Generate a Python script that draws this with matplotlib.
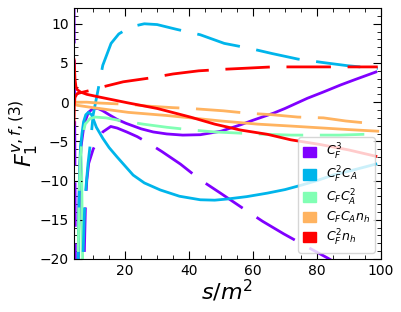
import numpy as np
import matplotlib
matplotlib.use("Agg")
import matplotlib.pyplot as plt
from matplotlib.patches import Patch
from matplotlib.ticker import MultipleLocator

# colour factors, one colour each (rainbow map)
labels = [r'$C_F^3$', r'$C_F^2C_A$', r'$C_FC_A^2$', r'$C_FC_An_h$', r'$C_F^2n_h$']
colors = plt.cm.rainbow(np.linspace(0, 1, 5))

# C_F^3
cf3_x = [5.2, 5.4, 5.6, 5.9, 6.2, 7.0, 7.7, 8.5, 10, 11.5, 13, 15, 17.5, 20.3, 25, 28.8, 33, 38,
         43.5, 50, 56, 60, 66.4, 70, 77, 82, 87.4, 92, 98.4]
cf3_y = [-22, -18, -12, -8, -5.7, -3.3, -2.2, -1.3, -0.8, -0.8, -1.1, -1.6, -2.2, -2.7, -3.4, -3.8,
         -4.05, -4.2, -4.15, -3.7, -2.9, -2.3, -1.4, -0.8, 0.5, 1.3, 2.2, 2.9, 3.85]
cf3d_x = [4.0, 4.1, 4.2, 4.3, 4.4, 4.5, 6.8, 7.3, 7.6, 8.0, 8.6, 10, 11.2, 13, 15.5, 17.5, 20.5,
          23.8, 28, 31.5, 37.3, 43.5, 49.8, 56.7, 63, 69.6, 75.8, 83.4, 90, 99]
cf3d_y = [14, 6, 0, -8, -16, -30, -30, -18, -13, -10, -7.8, -6, -5.05, -3.8, -3.1, -3.3, -3.8,
          -4.4, -5.4, -6.3, -7.9, -9.9, -11.6, -13.5, -15.2, -16.8, -18.2, -19.9, -21.5, -23.7]

# C_F^2 C_A
cfca_x = [5.3, 5.5, 5.7, 6.0, 6.5, 7.0, 7.7, 8.5, 9.5, 11, 13, 15, 17.5, 22.5, 26, 31, 37, 43.5,
          48, 52, 58, 64.5, 70, 75, 80, 85, 90, 98.4]
cfca_y = [-20, -14, -10, -6, -4, -2.5, -1.6, -1.3, -1.6, -3.2, -4.6, -5.8, -7.0, -9.3, -10.3,
          -11.2, -12, -12.45, -12.5, -12.35, -12.05, -11.6, -11.15, -10.6, -10.0, -9.3, -8.8, -7.9]
cfcad_x = [6.6, 6.8, 7.4, 8.4, 9.3, 10, 11.5, 13, 15.6, 18, 21.6, 26, 30, 36, 43.5, 51, 58.6, 66,
           74, 82, 89.6, 97.5, 99]
cfcad_y = [-30, -20, -12.5, -7.8, -4.6, -1.6, 1.5, 4.7, 7.5, 8.7, 9.6, 10.0, 9.9, 9.3, 8.6, 7.5,
           6.9, 6.2, 5.5, 5.05, 4.65, 4.35, 4.3]

# C_F C_A^2
ca2_x = [4.6, 5.5, 5.8, 6.1, 6.4, 6.7, 7.0]
ca2_y = [-60, -20, -9, -5.2, -9, -20, -60]
ca2d_x = [5.0, 5.3, 5.6, 6.0, 6.6, 7.5, 9, 10.6, 14, 17.8, 25.6, 33, 41, 48, 56, 64, 72, 80, 87,
          94.7, 99]
ca2d_y = [-30, -20, -12, -7, -4.5, -2.8, -2.1, -1.9, -2.0, -2.3, -2.8, -3.2, -3.55, -3.8, -3.95,
          -4.1, -4.2, -4.2, -4.2, -4.1, -4.1]

# C_F C_A n_h
nh_x = [4.0, 5, 10, 21, 33, 40.4, 50, 61.4, 72, 82, 90, 99]
nh_y = [-0.2, -0.4, -0.7, -1.3, -1.7, -2.0, -2.4, -2.8, -3.05, -3.3, -3.5, -3.7]
nhd_x = [4.0, 8, 11.5, 22, 27, 35, 40.4, 50.7, 58, 66, 74, 82, 89, 99]
nhd_y = [0.0, 0.0, -0.1, -0.3, -0.5, -0.7, -0.8, -1.1, -1.4, -1.6, -1.9, -2.0, -2.4, -2.8]

# C_F^2 n_h
fnh_x = [4.05, 4.3, 4.6, 5, 6, 8, 12, 21, 30, 40.4, 48, 56, 64.5, 71.8, 81, 90, 98.4]
fnh_y = [5.4, 3.0, 2.0, 1.6, 1.3, 1.0, 0.65, -0.1, -0.8, -1.9, -2.8, -3.55, -4.1, -4.8, -5.4,
         -6.1, -6.9]
fnhd_x = [4.0, 4.1, 4.3, 5, 7, 10, 12.5, 19.4, 28, 35, 43, 51, 58.6, 66, 75, 85, 99]
fnhd_y = [-3, -0.5, 0.6, 1.1, 1.3, 1.6, 1.9, 2.6, 3.1, 3.6, 4.0, 4.2, 4.35, 4.5, 4.5, 4.5, 4.5]

solid = [(cf3_x, cf3_y), (cfca_x, cfca_y), (ca2_x, ca2_y), (nh_x, nh_y), (fnh_x, fnh_y)]
dashed = [(cf3d_x, cf3d_y), (cfcad_x, cfcad_y), (ca2d_x, ca2d_y), (nhd_x, nhd_y), (fnhd_x, fnhd_y)]

fig = plt.figure(figsize=(4.01, 3.12), dpi=100)
ax = fig.add_axes([0.1845, 0.170, 0.7655, 0.804])

for i, ((xs, ys), (xd, yd)) in enumerate(zip(solid, dashed)):
    z = 1 if i == 2 else 2
    ax.plot(xs, ys, color=colors[i], lw=2, zorder=z)
    line, = ax.plot(xd, yd, color=colors[i], lw=2, zorder=2)
    line.set_dashes([16, 6])  # long dashes

ax.set_xlim(4, 100)
ax.set_ylim(-20, 12)
ax.xaxis.set_major_locator(MultipleLocator(20))
ax.xaxis.set_minor_locator(MultipleLocator(5))
ax.yaxis.set_major_locator(MultipleLocator(5))
ax.yaxis.set_minor_locator(MultipleLocator(1))
ax.tick_params(which='both', direction='in', top=True, right=True, labelsize=10)
ax.tick_params(which='major', length=6)
ax.tick_params(which='minor', length=3)

ax.set_xlabel(r'$s/m^2$', fontsize=16, labelpad=0)
ax.set_ylabel(r'$F_1^{v,f,(3)}$', fontsize=16, labelpad=0)

handles = [Patch(color=c) for c in colors]
ax.legend(handles, labels, loc='lower right', fontsize=9, handlelength=1.0, handleheight=0.9,
          labelspacing=0.2, handletextpad=0.8)

fig.savefig('out.png', dpi=100)
